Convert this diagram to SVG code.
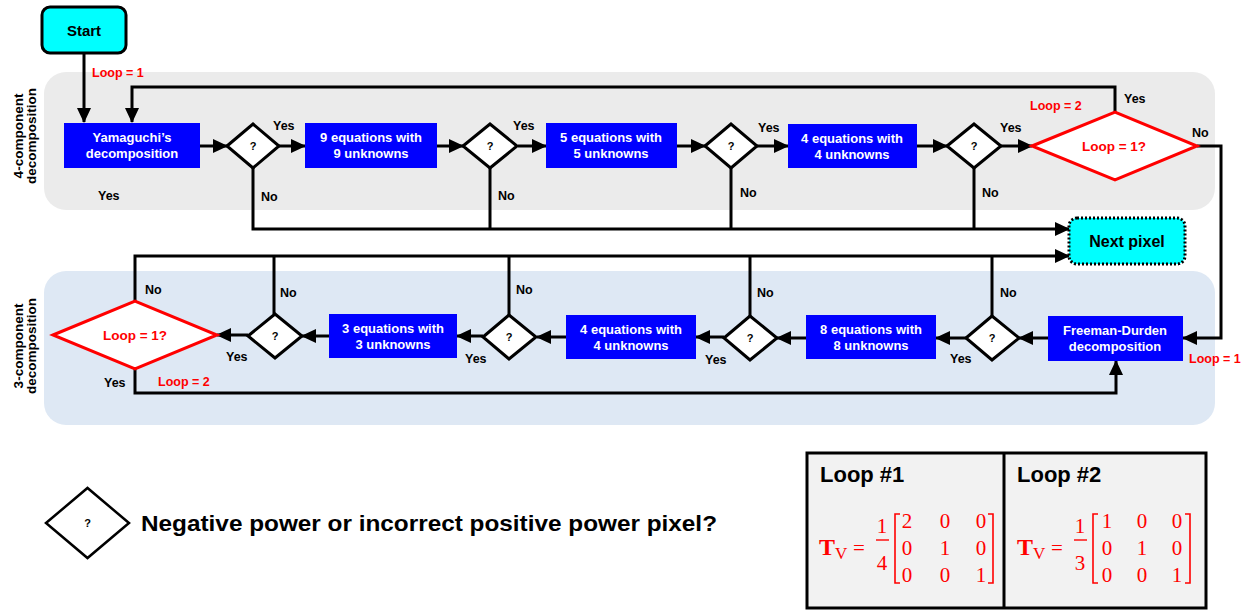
<svg xmlns="http://www.w3.org/2000/svg" width="1252" height="610" viewBox="0 0 1252 610">
<style>
text{font-family:"Liberation Sans",Arial,sans-serif;font-weight:bold}
.box{fill:#0000ff}
.bt{fill:#ffffff;font-size:13px;text-anchor:middle}
.dia{fill:#ffffff;stroke:#000;stroke-width:3}
.red{fill:#ffffff;stroke:#ff0000;stroke-width:3}
.q{font-size:11px;text-anchor:middle;fill:#000}
.lbl{font-size:12.5px;fill:#000}
.rl{font-size:12.5px;fill:#ff0000}
.rq{font-size:13.5px;fill:#ff0000;text-anchor:middle}
.side{font-size:13.5px;text-anchor:middle;fill:#000}
.conn path{fill:none;stroke:#000;stroke-width:3}
.m{font-family:"Liberation Serif","Times New Roman",serif;font-weight:normal;fill:#ff0000;font-size:21px;text-anchor:middle}
.tv{font-family:"Liberation Serif","Times New Roman",serif;font-weight:bold;fill:#ff0000;font-size:24px;text-anchor:start}
.tv tspan{font-weight:normal;font-size:17px}
.br{fill:none;stroke:#ff0000;stroke-width:1.6}
</style>
<defs>
<marker id="ah" markerUnits="userSpaceOnUse" markerWidth="16" markerHeight="14" refX="14" refY="7" orient="auto">
<path d="M0,0 L15,7 L0,14 z" fill="#000"/>
</marker>
</defs>

<g id="panels">
<rect x="44" y="72" width="1171" height="138" rx="22" fill="#ebebeb"/>
<rect x="44" y="271" width="1171" height="154" rx="22" fill="#dee8f4"/>
<text class="side" transform="translate(0,136) rotate(-90)"><tspan x="0" y="23">4-component</tspan><tspan x="0" y="36">decomposition</tspan></text>
<text class="side" transform="translate(0,346) rotate(-90)"><tspan x="0" y="23">3-component</tspan><tspan x="0" y="36">decomposition</tspan></text>
</g>

<g class="conn">
<path d="M84,53 V122" marker-end="url(#ah)"/>
<path d="M1115,112 V87 H132 V122" marker-end="url(#ah)"/>
<path d="M200,146 H227" marker-end="url(#ah)"/>
<path d="M279,146 H305" marker-end="url(#ah)"/>
<path d="M437,146 H463" marker-end="url(#ah)"/>
<path d="M518,146 H546" marker-end="url(#ah)"/>
<path d="M677,146 H705" marker-end="url(#ah)"/>
<path d="M757,146 H788" marker-end="url(#ah)"/>
<path d="M917,146 H947" marker-end="url(#ah)"/>
<path d="M1001,146 H1032" marker-end="url(#ah)"/>
<path d="M1197,146 H1221 V338 H1183" marker-end="url(#ah)"/>
<path d="M253,168 V229 H1069" marker-end="url(#ah)"/>
<path d="M490,168 V229"/>
<path d="M731,168 V229"/>
<path d="M974,168 V229"/>
<path d="M135,301 V256 H1069" marker-end="url(#ah)"/>
<path d="M274,314 V256"/>
<path d="M509,315 V256"/>
<path d="M750,316 V256"/>
<path d="M992,316 V256"/>
<path d="M1048,338 H1019" marker-end="url(#ah)"/>
<path d="M966,338 H936" marker-end="url(#ah)"/>
<path d="M806,338 H777" marker-end="url(#ah)"/>
<path d="M724,337 H696" marker-end="url(#ah)"/>
<path d="M566,337 H537" marker-end="url(#ah)"/>
<path d="M483,336 H457" marker-end="url(#ah)"/>
<path d="M329,336 H302" marker-end="url(#ah)"/>
<path d="M248,335 H217" marker-end="url(#ah)"/>
<path d="M135,369 V393 H1116 V361" marker-end="url(#ah)"/>
</g>

<g id="start">
<rect x="42" y="7" width="84" height="46" rx="8" fill="#00ffff" stroke="#000" stroke-width="3"/>
<text x="84" y="36" font-size="15" text-anchor="middle">Start</text>
</g>
<g id="yamaguchi">
<rect class="box" x="64" y="123" width="136" height="45"/>
<text class="bt" x="132" y="142">Yamaguchi’s</text>
<text class="bt" x="132" y="158">decomposition</text>
</g>
<g id="d1"><path class="dia" d="M227,146 L253,124 L279,146 L253,168 z"/><text class="q" x="253" y="150">?</text></g>
<g id="eq9">
<rect class="box" x="305" y="123" width="132" height="45"/>
<text class="bt" x="371" y="142">9 equations with</text>
<text class="bt" x="371" y="158">9 unknowns</text>
</g>
<g id="d2"><path class="dia" d="M463,146 L490,124 L517,146 L490,168 z"/><text class="q" x="490" y="150">?</text></g>
<g id="eq5">
<rect class="box" x="546" y="123" width="131" height="45"/>
<text class="bt" x="611" y="142">5 equations with</text>
<text class="bt" x="611" y="158">5 unknowns</text>
</g>
<g id="d3"><path class="dia" d="M705,146 L731,124 L757,146 L731,168 z"/><text class="q" x="731" y="150">?</text></g>
<g id="eq4a">
<rect class="box" x="788" y="124" width="129" height="44"/>
<text class="bt" x="852" y="143">4 equations with</text>
<text class="bt" x="852" y="159">4 unknowns</text>
</g>
<g id="d4"><path class="dia" d="M947,146 L974,124 L1001,146 L974,168 z"/><text class="q" x="974" y="150">?</text></g>
<g id="loop1a">
<path class="red" d="M1032,146 L1115,112 L1197,146 L1115,180 z"/>
<text class="rq" x="1114" y="151">Loop = 1?</text>
</g>
<g id="nextpixel">
<rect x="1069" y="218" width="116" height="46" rx="8" fill="#00ffff" stroke="#000" stroke-width="3" stroke-dasharray="2 2"/>
<text x="1127" y="247" font-size="16" text-anchor="middle">Next pixel</text>
</g>
<g id="freeman">
<rect class="box" x="1048" y="316" width="135" height="45"/>
<text class="bt" x="1115" y="335">Freeman-Durden</text>
<text class="bt" x="1115" y="351">decomposition</text>
</g>
<g id="d8"><path class="dia" d="M966,338 L992,316 L1019,338 L992,360 z"/><text class="q" x="992" y="342">?</text></g>
<g id="eq8">
<rect class="box" x="806" y="315" width="130" height="44"/>
<text class="bt" x="871" y="334">8 equations with</text>
<text class="bt" x="871" y="350">8 unknowns</text>
</g>
<g id="d7"><path class="dia" d="M724,338 L750,316 L777,338 L750,360 z"/><text class="q" x="750" y="342">?</text></g>
<g id="eq4b">
<rect class="box" x="566" y="315" width="130" height="44"/>
<text class="bt" x="631" y="334">4 equations with</text>
<text class="bt" x="631" y="350">4 unknowns</text>
</g>
<g id="d6"><path class="dia" d="M483,337 L509,315 L536,337 L509,359 z"/><text class="q" x="509" y="341">?</text></g>
<g id="eq3">
<rect class="box" x="329" y="314" width="128" height="44"/>
<text class="bt" x="393" y="333">3 equations with</text>
<text class="bt" x="393" y="349">3 unknowns</text>
</g>
<g id="d5"><path class="dia" d="M248,336 L275,314 L302,336 L275,358 z"/><text class="q" x="275" y="340">?</text></g>
<g id="loop1b">
<path class="red" d="M53,335 L135,301 L217,335 L135,369 z"/>
<text class="rq" x="135" y="340">Loop = 1?</text>
</g>

<g id="labels">
<text class="rl" x="92" y="77">Loop = 1</text>
<text class="lbl" x="273" y="130">Yes</text>
<text class="lbl" x="513" y="130">Yes</text>
<text class="lbl" x="758" y="132">Yes</text>
<text class="lbl" x="1000" y="132">Yes</text>
<text class="lbl" x="261" y="201">No</text>
<text class="lbl" x="498" y="200">No</text>
<text class="lbl" x="740" y="197">No</text>
<text class="lbl" x="982" y="197">No</text>
<text class="lbl" x="98" y="200">Yes</text>
<text class="rl" x="1030" y="110">Loop = 2</text>
<text class="lbl" x="1124" y="103">Yes</text>
<text class="lbl" x="1192" y="137">No</text>
<text class="lbl" x="145" y="294">No</text>
<text class="lbl" x="280" y="297">No</text>
<text class="lbl" x="516" y="294">No</text>
<text class="lbl" x="757" y="297">No</text>
<text class="lbl" x="1000" y="297">No</text>
<text class="lbl" x="226" y="361">Yes</text>
<text class="lbl" x="465" y="363">Yes</text>
<text class="lbl" x="705" y="364">Yes</text>
<text class="lbl" x="950" y="363">Yes</text>
<text class="lbl" x="104" y="387">Yes</text>
<text class="rl" x="158" y="386">Loop = 2</text>
<text class="rl" x="1189" y="363">Loop = 1</text>
</g>

<g id="legend">
<path d="M46,523 L87.5,488 L129,523 L87.5,558 z" fill="#fff" stroke="#000" stroke-width="2.5"/>
<text class="q" x="87.5" y="527">?</text>
<text x="141" y="531" font-size="22" textLength="576" lengthAdjust="spacingAndGlyphs">Negative power or incorrect positive power pixel?</text>
</g>

<g id="matrices">
<rect x="807" y="453" width="399" height="155" fill="#f2f2f2" stroke="#000" stroke-width="3"/>
<line x1="1004" y1="453" x2="1004" y2="608" stroke="#000" stroke-width="3"/>
<text x="820" y="482" font-size="22">Loop #1</text>
<text x="1017" y="482" font-size="22">Loop #2</text>

<text class="tv" x="819" y="555">T<tspan dy="4">V</tspan></text>
<text class="m" x="859" y="555">=</text>
<text class="m" x="882" y="533">1</text>
<line x1="876" y1="540" x2="889" y2="540" stroke="#ff0000" stroke-width="1.4"/>
<text class="m" x="882" y="570">4</text>
<path class="br" d="M900,514 H895 V583 H900 M988,514 H993 V583 H988"/>
<text class="m" x="907" y="528">2</text><text class="m" x="945" y="528">0</text><text class="m" x="981" y="528">0</text>
<text class="m" x="907" y="555">0</text><text class="m" x="945" y="555">1</text><text class="m" x="981" y="555">0</text>
<text class="m" x="907" y="582">0</text><text class="m" x="945" y="582">0</text><text class="m" x="981" y="582">1</text>

<text class="tv" x="1017" y="555">T<tspan dy="4">V</tspan></text>
<text class="m" x="1057" y="555">=</text>
<text class="m" x="1080" y="533">1</text>
<line x1="1074" y1="540" x2="1087" y2="540" stroke="#ff0000" stroke-width="1.4"/>
<text class="m" x="1080" y="570">3</text>
<path class="br" d="M1098,514 H1093 V583 H1098 M1185,514 H1190 V583 H1185"/>
<text class="m" x="1107" y="528">1</text><text class="m" x="1142" y="528">0</text><text class="m" x="1177" y="528">0</text>
<text class="m" x="1107" y="555">0</text><text class="m" x="1142" y="555">1</text><text class="m" x="1177" y="555">0</text>
<text class="m" x="1107" y="582">0</text><text class="m" x="1142" y="582">0</text><text class="m" x="1177" y="582">1</text>
</g>
</svg>
